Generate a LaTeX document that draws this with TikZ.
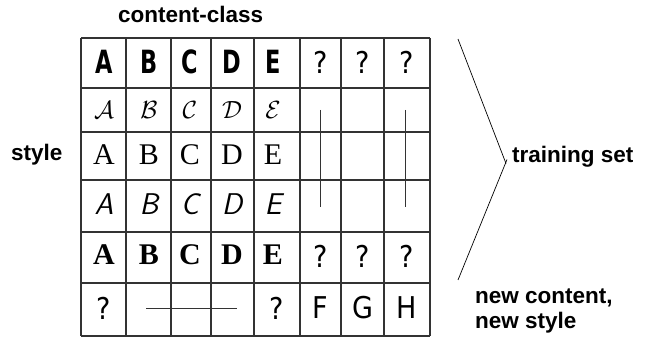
\documentclass[tikz,border=0pt]{standalone}
\usepackage{fontspec}
\setmainfont{Liberation Serif}
\newfontfamily\sanslabel{Liberation Sans}
\newfontfamily\blockfont[FakeStretch=0.78]{DejaVu Sans Condensed}
\newfontfamily\qfont{DejaVu Sans Condensed}
\usetikzlibrary{positioning}
\newcommand\glyphsize{\fontsize{30}{36}\selectfont}

\tikzset{
  gridline/.style={line width=1.2pt, black!80},
  ditto/.style={line width=1pt, black!80},
  brace/.style={line width=0.7pt, black},
  lbl/.style={inner sep=0pt, font=\sanslabel\bfseries\fontsize{22.5}{27}\selectfont},
  glyph/.style={inner sep=0pt},
  rowA/.style={glyph, font=\blockfont\bfseries\fontsize{32}{38}\selectfont},
  rowB/.style={glyph, font=\fontsize{32}{38}\selectfont},
  rowC/.style={glyph, font=\rmfamily\glyphsize},
  rowD/.style={glyph, font=\sffamily\slshape\glyphsize},
  rowE/.style={glyph, font=\rmfamily\bfseries\glyphsize},
  quest/.style={glyph, font=\qfont\glyphsize}
}

\begin{document}
\begin{tikzpicture}[x=1pt,y=-1pt]
    \useasboundingbox (0,0) rectangle (646,337);

    \foreach \x in {81,126,171,211,254,300,341,384,430}
        \draw[gridline] (\x,38) -- (\x,336);
    \foreach \y in {38,88,132,180,232,283,336}
        \draw[gridline] (81,\y) -- (430,\y);

    \foreach \l/\cx in {A/104,B/149,C/190,D/232,E/273} {
        \node[rowA] (a\l) at (\cx,62) {\l};
        \node[rowB] (b\l) at (\cx,110) {$\mathcal{\l}$};
        \node[rowC] (c\l) at (\cx,155) {\l};
        \node[rowD] (d\l) at (\cx,204) {\l};
        \node[rowE] (e\l) at (\cx,255) {\l};
    }
    \foreach \n/\cx in {F/320.5,G/362.5,H/407} {
        \node[quest] (a\n) at (\cx,62.5) {?};
        \node[quest] (e\n) at (\cx,256) {?};
        \node[quest] (f\n) at (\cx,308) {\n};
    }
    \node[quest] (fA) at (103.5,308.5) {?};
    \node[quest] (fE) at (277,308.5) {?};

    \coordinate (dashL) at (146,308);
    \coordinate (dashR) at (237,308);
    \draw[ditto] (dashL) -- (dashR);
    \foreach \cx/\n in {320/F,405/H} {
        \coordinate (top\n) at (\cx,110);
        \coordinate (bot\n) at (\cx,207);
        \draw[ditto] (top\n) -- (bot\n);
    }

    \node[lbl, anchor=base west] (content) at (118,23) {content-class};
    \node[lbl, anchor=mid west] (style) at (11,158) {style};
    \node[lbl, anchor=mid west] (train) at (512,160) {training set};
    \node[lbl, anchor=base west] (newc) at (475,303) {new content,};
    \node[lbl, anchor=base west] (news) at ([yshift=-25pt]newc.base west) {new style};

    \coordinate (brtop) at (458,39);
    \coordinate (brbot) at (458,280);
    \draw[brace] (brtop) -- ([shift={(-6pt,-7pt)}]train.west);
    \draw[brace] (brbot) -- ([shift={(-5pt,-3pt)}]train.west);
\end{tikzpicture}
\end{document}
